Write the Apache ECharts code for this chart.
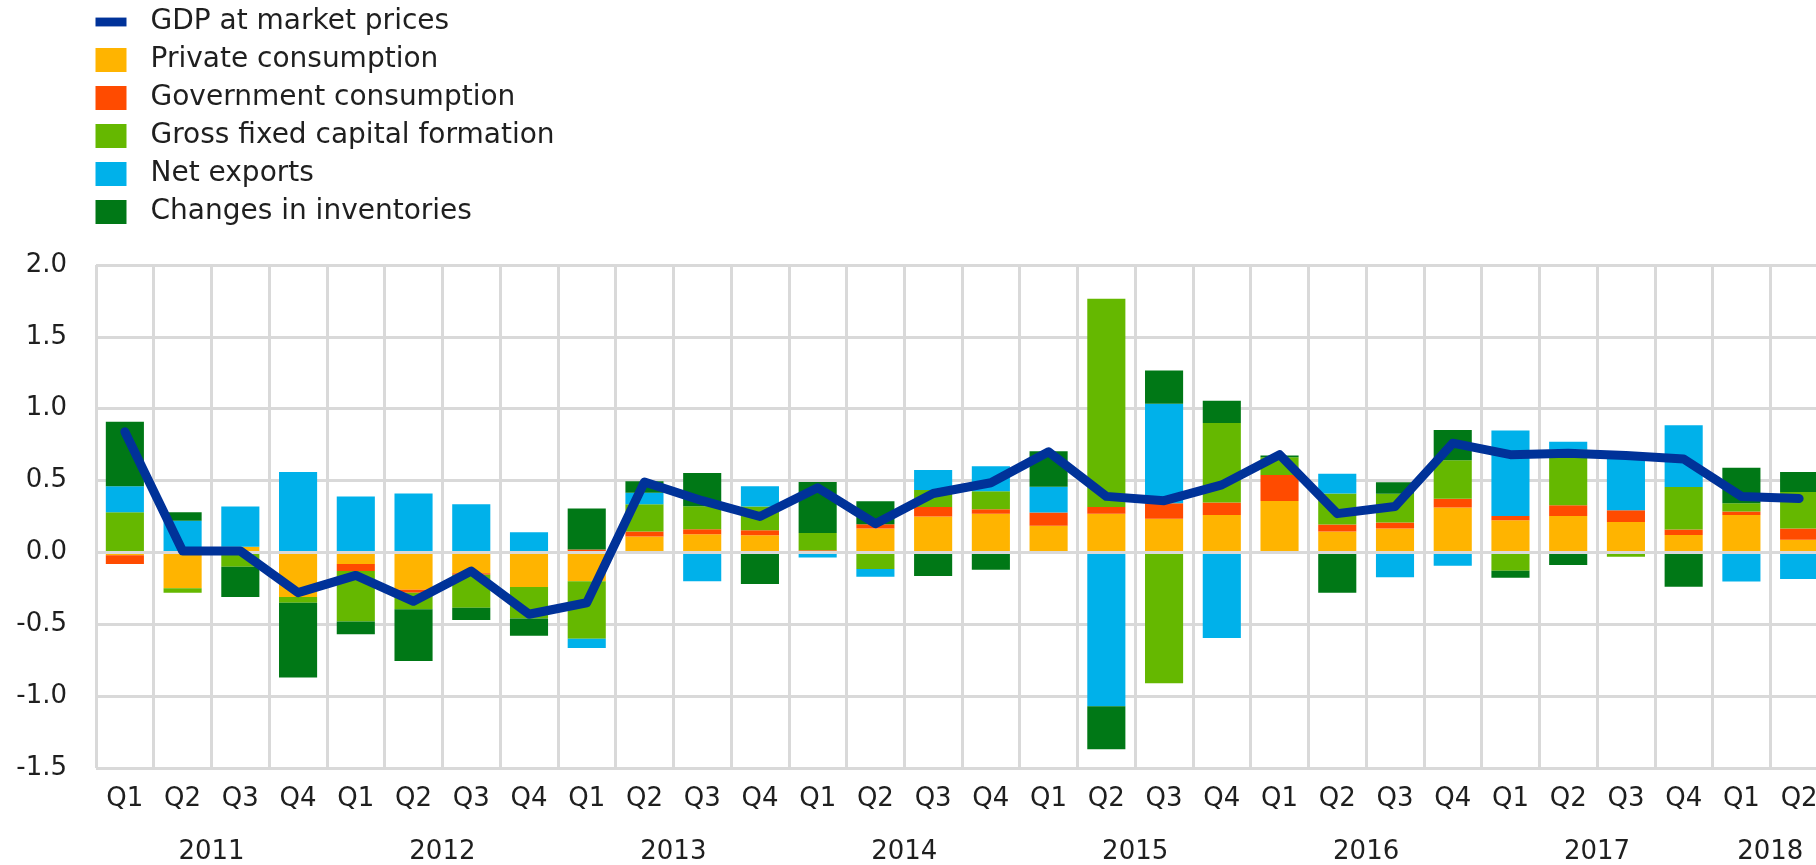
<!DOCTYPE html>
<html>
<head>
<meta charset="utf-8">
<script src="https://cdn.jsdelivr.net/npm/echarts@6/dist/echarts.min.js"></script>
<style>
html,body{margin:0;padding:0;background:#ffffff;overflow:hidden;width:1816px;height:865px;}
#c{width:1831px;height:865px;}
</style>
</head>
<body>
<div id="c"></div>
<script>
// ---------------- data ----------------
const quarters = [
  'Q1','Q2','Q3','Q4', 'Q1','Q2','Q3','Q4', 'Q1','Q2','Q3','Q4', 'Q1','Q2','Q3','Q4',
  'Q1','Q2','Q3','Q4', 'Q1','Q2','Q3','Q4', 'Q1','Q2','Q3','Q4', 'Q1','Q2'
];
const years = ['2011','2012','2013','2014','2015','2016','2017','2018'];
const quartersPerYear = [4,4,4,4,4,4,4,2];
const yTicks = [-1.5, 2.0, 0.5]; // min, max, step

const seriesNames = [
  'GDP at market prices',
  'Private consumption',
  'Government consumption',
  'Gross fixed capital formation',
  'Net exports',
  'Changes in inventories'
];

const gdp = [
  0.84, 0.01, 0.01, -0.28,
  -0.16, -0.34, -0.13, -0.43,
  -0.35, 0.49, 0.36, 0.25,
  0.45, 0.20, 0.41, 0.485,
  0.70, 0.39, 0.36, 0.47,
  0.68, 0.27, 0.32, 0.76,
  0.68, 0.69, 0.675, 0.65,
  0.39, 0.375
];
const privateConsumption = [
  -0.02, -0.25, 0.04, -0.31,
  -0.08, -0.26, -0.145, -0.24,
  -0.20, 0.11, 0.127, 0.12,
  -0.01, 0.166, 0.25, 0.27,
  0.185, 0.27, 0.235, 0.26,
  0.358, 0.145, 0.166, 0.312,
  0.224, 0.254, 0.212, 0.122,
  0.261, 0.088
];
const governmentConsumption = [
  -0.06, 0.01, 0.0, 0.0,
  -0.05, -0.02, -0.01, 0.0,
  0.02, 0.035, 0.035, 0.035,
  0.015, 0.03, 0.066, 0.03,
  0.092, 0.046, 0.107, 0.087,
  0.18, 0.05, 0.042, 0.062,
  0.03, 0.074, 0.081, 0.038,
  0.023, 0.078
];
const grossFixedCapital = [
  0.28, -0.03, -0.10, -0.04,
  -0.35, -0.115, -0.23, -0.22,
  -0.40, 0.19, 0.16, 0.165,
  0.12, -0.115, 0.118, 0.125,
  0.0, 1.45, -0.91, 0.554,
  0.125, 0.215, 0.20, 0.268,
  -0.127, 0.388, -0.03, 0.295,
  0.058, 0.254
];
const netExports = [
  0.18, 0.21, 0.28, 0.56,
  0.39, 0.41, 0.335, 0.14,
  -0.065, 0.08, -0.20, 0.14,
  -0.025, -0.055, 0.139, 0.175,
  0.18, -1.07, 0.693, -0.596,
  0.0, 0.138, -0.173, -0.092,
  0.594, 0.054, 0.39, 0.43,
  -0.203, -0.185
];
const inventories = [
  0.45, 0.06, -0.21, -0.52,
  -0.09, -0.36, -0.085, -0.12,
  0.285, 0.08, 0.23, -0.22,
  0.355, 0.16, -0.164, -0.12,
  0.247, -0.30, 0.231, 0.155,
  0.012, -0.28, 0.08, 0.21,
  -0.049, -0.088, 0.0, -0.238,
  0.247, 0.139
];

// ---------------- styling ----------------
const FONT = 'DejaVu Sans';
const TXT = '#1f1f1f';
const GRID_COLOR = '#d9d9d9';
const COLORS = ['#003299', '#FFB400', '#FF4B00', '#65B800', '#00B1EA', '#007816'];

// year label centres and year-start indices derived from the category data
const yearCenters = {};
const yearStarts = new Set();
let s = 0;
years.forEach((y, i) => {
  yearStarts.add(s);
  yearCenters[s + quartersPerYear[i] / 2] = y;
  s += quartersPerYear[i];
});

const barData = [privateConsumption, governmentConsumption, grossFixedCapital, netExports, inventories];

const series = barData.map((d, i) => ({
  name: seriesNames[i + 1],
  type: 'bar',
  stack: 'total',
  barWidth: '66%',
  data: d,
  itemStyle: { color: COLORS[i + 1] },
  z: 2
}));
series[series.length - 1].markLine = {
  silent: true,
  symbol: ['none', 'none'],
  label: { show: false },
  lineStyle: { color: GRID_COLOR, width: 3, type: 'solid' },
  data: [{ yAxis: 0 }],
  animation: false
};
series.push({
  name: seriesNames[0],
  type: 'line',
  data: gdp,
  symbol: 'none',
  z: 10,
  lineStyle: { color: COLORS[0], width: 9, cap: 'round', join: 'round' },
  itemStyle: { color: COLORS[0] }
});

const chart = echarts.init(document.getElementById('c'), null, { renderer: 'canvas' });
chart.setOption({
  animation: false,
  backgroundColor: '#ffffff',
  textStyle: { fontFamily: FONT },
  legend: {
    orient: 'vertical',
    left: 95.5,
    top: 8,
    padding: 0,
    itemWidth: 31,
    itemHeight: 24,
    itemGap: 10,
    selectedMode: false,
    symbolKeepAspect: true,
    textStyle: { fontFamily: FONT, fontSize: 28, color: TXT, lineHeight: 28, padding: [0, 0, 0, 19] },
    data: [
      { name: seriesNames[0], icon: 'path://M0,0H35V10H0Z' },
      { name: seriesNames[1], icon: 'rect' },
      { name: seriesNames[2], icon: 'rect' },
      { name: seriesNames[3], icon: 'rect' },
      { name: seriesNames[4], icon: 'rect' },
      { name: seriesNames[5], icon: 'rect' }
    ]
  },
  grid: { left: 96, right: 0, top: 265, bottom: 93.5, containLabel: false },
  xAxis: [
    {
      type: 'category',
      data: quarters,
      boundaryGap: true,
      position: 'bottom',
      axisLine: { show: false },
      axisTick: {
        show: true,
        alignWithLabel: false,
        interval: (i) => yearStarts.has(i),
        length: 95,
        lineStyle: { color: GRID_COLOR, width: 3 }
      },
      axisLabel: { interval: 0, fontFamily: FONT, fontSize: 26, color: TXT, margin: 18, lineHeight: 26 },
      splitLine: { show: true, interval: 0, lineStyle: { color: GRID_COLOR, width: 3 } }
    },
    {
      type: 'value',
      min: 0,
      max: quarters.length,
      interval: 1,
      position: 'bottom',
      axisLine: { show: false },
      axisTick: { show: false },
      splitLine: { show: false },
      axisLabel: {
        fontFamily: FONT, fontSize: 26, color: TXT, margin: 71, lineHeight: 26,
        showMinLabel: true, showMaxLabel: true,
        formatter: (v) => yearCenters[v] || ''
      }
    }
  ],
  yAxis: {
    type: 'value',
    min: yTicks[0],
    max: yTicks[1],
    interval: yTicks[2],
    axisLine: { show: false },
    axisTick: { show: false },
    axisLabel: { fontFamily: FONT, fontSize: 26, color: TXT, margin: 29, formatter: (v) => v.toFixed(1) },
    splitLine: { show: true, lineStyle: { color: GRID_COLOR, width: 3 } }
  },
  series: series
});
</script>
</body>
</html>
